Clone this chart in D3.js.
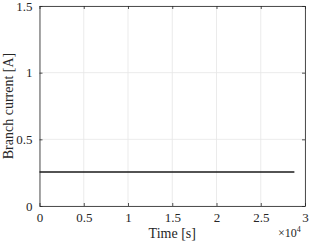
<!DOCTYPE html>
<html>
<head>
<script src="https://d3js.org/d3.v7.min.js"></script>
<style>
  body { margin: 0; background: #fff; }
</style>
</head>
<body>
<div id="chart"></div>
<script>
// data
var timeS = [0, 28800];
var branchCurrent = [0.255, 0.255];
var xTicks = [0, 5000, 10000, 15000, 20000, 25000, 30000];
var xTickLabels = ["0", "0.5", "1", "1.5", "2", "2.5", "3"];
var yTicks = [0, 0.5, 1, 1.5];
var yTickLabels = ["0", "0.5", "1", "1.5"];

var font = "Liberation Serif";
var width = 309, height = 244;
var margin = {top: 6, right: 4, bottom: 38, left: 39.5};
var w = width - margin.left - margin.right;
var h = height - margin.top - margin.bottom;

var svg = d3.select("#chart").append("svg")
    .attr("width", width)
    .attr("height", height);

var g = svg.append("g")
    .attr("transform", "translate(" + margin.left + "," + margin.top + ")");

var x = d3.scaleLinear().domain([0, 30000]).range([0, w]);
var y = d3.scaleLinear().domain([0, 1.5]).range([h, 0]);

// grid
g.selectAll(".gx").data(xTicks).enter().append("line")
    .attr("x1", function (d) { return x(d); })
    .attr("x2", function (d) { return x(d); })
    .attr("y1", 0).attr("y2", h)
    .attr("stroke", "#e6e6e6").attr("stroke-width", 0.8);
g.selectAll(".gy").data(yTicks).enter().append("line")
    .attr("y1", function (d) { return y(d); })
    .attr("y2", function (d) { return y(d); })
    .attr("x1", 0).attr("x2", w)
    .attr("stroke", "#e6e6e6").attr("stroke-width", 0.8);

// axes (ticks inward, box on)
function styleAxis(sel) {
    sel.attr("font-family", font).attr("font-size", 13);
    sel.select(".domain").attr("stroke", "#262626").attr("stroke-width", 0.8);
    sel.selectAll(".tick line").attr("stroke", "#262626").attr("stroke-width", 0.8);
    sel.selectAll("text").attr("fill", "#262626");
}

var xAxis = g.append("g")
    .attr("transform", "translate(0," + h + ")")
    .call(d3.axisBottom(x).tickValues(xTicks)
        .tickFormat(function (d, i) { return xTickLabels[i]; })
        .tickSizeInner(-3).tickSizeOuter(0).tickPadding(7));
styleAxis(xAxis);

var xTop = g.append("g")
    .call(d3.axisTop(x).tickValues(xTicks).tickFormat("")
        .tickSizeInner(-3).tickSizeOuter(0));
styleAxis(xTop);

var yAxis = g.append("g")
    .call(d3.axisLeft(y).tickValues(yTicks)
        .tickFormat(function (d, i) { return yTickLabels[i]; })
        .tickSizeInner(-3).tickSizeOuter(0).tickPadding(7));
styleAxis(yAxis);

var yRight = g.append("g")
    .attr("transform", "translate(" + w + ",0)")
    .call(d3.axisRight(y).tickValues(yTicks).tickFormat("")
        .tickSizeInner(-3).tickSizeOuter(0));
styleAxis(yRight);

// series
var pts = timeS.map(function (t, i) { return [t, branchCurrent[i]]; });
g.append("path")
    .datum(pts)
    .attr("fill", "none")
    .attr("stroke", "#1a1a1a")
    .attr("stroke-width", 1.6)
    .attr("d", d3.line()
        .x(function (d) { return x(d[0]); })
        .y(function (d) { return y(d[1]); }));

// labels
svg.append("text")
    .attr("x", margin.left + w / 2)
    .attr("y", 238)
    .attr("text-anchor", "middle")
    .attr("font-family", font)
    .attr("font-size", 14)
    .attr("fill", "#262626")
    .text("Time [s]");

var exp = svg.append("text")
    .attr("x", 278)
    .attr("y", 237)
    .attr("font-family", font)
    .attr("font-size", 12)
    .attr("fill", "#262626");
exp.append("tspan").text("\u00d710");
exp.append("tspan").attr("dy", -5).attr("font-size", 8).text("4");

svg.append("text")
    .attr("transform", "translate(13," + (margin.top + h / 2) + ") rotate(-90)")
    .attr("text-anchor", "middle")
    .attr("font-family", font)
    .attr("font-size", 14)
    .attr("fill", "#262626")
    .text("Branch current [A]");
</script>
</body>
</html>
